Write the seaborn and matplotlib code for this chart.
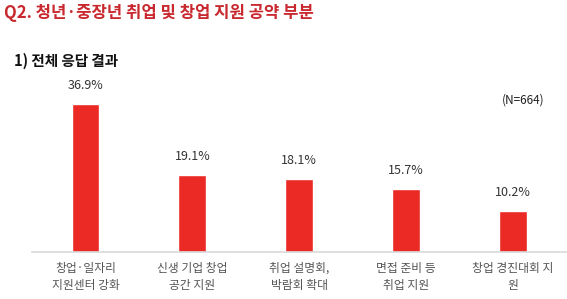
import matplotlib
matplotlib.use("Agg")
import matplotlib.pyplot as plt
import seaborn as sns
import pandas as pd

categories = ["창업·일자리\n지원센터 강화", "신생 기업 창업\n공간 지원", "취업 설명회,\n박람회 확대",
              "면접 준비 등\n취업 지원", "창업 경진대회 지\n원"]
values = [36.9, 19.1, 18.1, 15.7, 10.2]
value_labels = ["36.9%", "19.1%", "18.1%", "15.7%", "10.2%"]
title = "Q2. 청년·중장년 취업 및 창업 지원 공약 부분"
subtitle = "1) 전체 응답 결과"
note = "(N=664)"

sns.set_theme(style="white")
plt.rcParams['font.family'] = ['Noto Sans CJK KR', 'DejaVu Sans']

df = pd.DataFrame({"cat": categories, "val": values})

fig = plt.figure(figsize=(5.67, 2.99), dpi=100)
W, H = 567, 299
ax = fig.add_axes([32 / W, (H - 252) / H, (566.5 - 32) / W, 160.4 / H])
sns.barplot(data=df, x="cat", y="val", color="#ec2a25", saturation=1, width=0.26, ax=ax)
ax.set_xlim(-0.5, 4.5)
ax.set_ylim(0, 40)
ax.set_xlabel("")
ax.set_ylabel("")
ax.set_yticks([])
for s in ["top", "right", "left"]:
    ax.spines[s].set_visible(False)
ax.spines["bottom"].set_color("#d9d9d9")
ax.spines["bottom"].set_linewidth(1.2)
ax.tick_params(axis="x", length=0, pad=7, labelsize=8.5, labelcolor="#555555")
for t in ax.get_xticklabels():
    t.set_linespacing(1.45)

for i, (v, lab) in enumerate(zip(values, value_labels)):
    ax.annotate(lab, (i, v), xytext=(0, 9), textcoords="offset points",
                ha="center", va="bottom", fontsize=9, color="#333333")

fig.text(4 / W, 1 - 13 / H, title, color="#c8282e", fontsize=12, fontweight="bold",
         ha="left", va="center")
fig.text(14 / W, 1 - 61 / H, subtitle, color="#111111", fontsize=10.5, fontweight="bold",
         ha="left", va="center")
fig.text(523 / W, 1 - 100 / H, note, color="#222222", fontsize=8.5, ha="center", va="center")

fig.savefig("out.png", dpi=100)
